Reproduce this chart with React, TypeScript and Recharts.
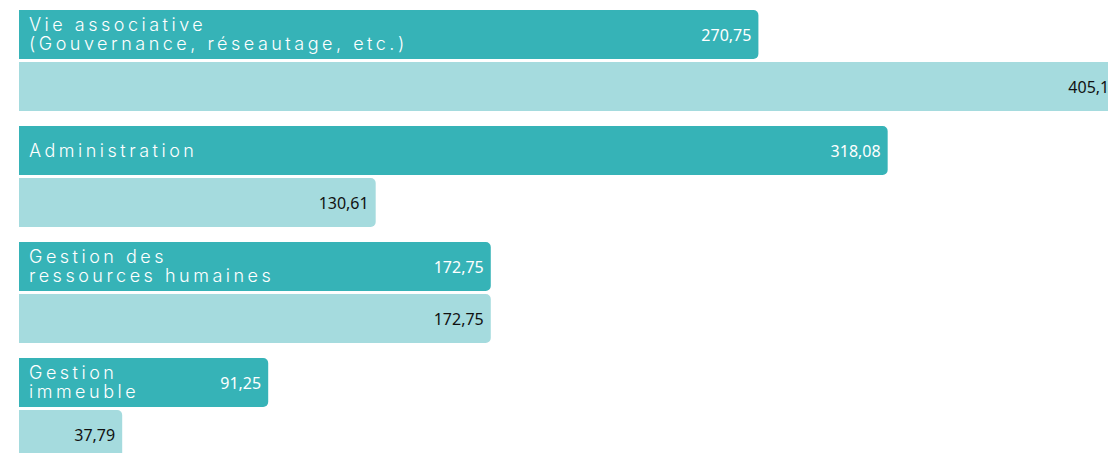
import React from 'react';
import { BarChart, Bar, XAxis, YAxis, LabelList } from 'recharts';

// postes budgétaires (une ligne de texte par "\n")
const categories = [
  'Vie associative\n(Gouvernance, réseautage, etc.)',
  'Administration',
  'Gestion des\nressources humaines',
  'Gestion\nimmeuble',
];
const darkValues = [270.75, 318.08, 172.75, 91.25];
const lightValues = [405.13, 130.61, 172.75, 37.79];

const DARK = '#36b3b7';
const LIGHT = '#a5dbde';

const data = categories.map((name, i) => ({ name, dark: darkValues[i], light: lightValues[i] }));

const fmt = (v: number) => v.toFixed(2).replace('.', ',');

const CategoryLabel = (props: any) => {
  const { x, y, height, index } = props;
  const lines = categories[index].split('\n');
  const cy = y + height / 2;
  const baselines = lines.length === 1 ? [cy + 6] : [cy - 4, cy + 15];
  return (
    <g>
      {lines.map((l, i) => (
        <text
          key={i}
          x={x + 10}
          y={baselines[i]}
          fill="#ffffff"
          fontSize={18}
          fontFamily="Inter, sans-serif"
          fontWeight={300}
          letterSpacing={3.5}
        >
          {l}
        </text>
      ))}
    </g>
  );
};

const valueLabel = (color: string) => (props: any) => {
  const { x, y, width, height, value } = props;
  return (
    <text
      x={x + width - 7}
      y={y + height / 2 + 6}
      textAnchor="end"
      fill={color}
      fontSize={16}
      fontFamily="'Noto Sans', sans-serif"
    >
      {fmt(value)}
    </text>
  );
};

export default function App() {
  return (
    <div style={{ position: 'fixed', top: 0, left: 0, width: 1108, height: 453, overflow: 'hidden', background: '#fff' }}>
      <BarChart
        width={1166}
        height={466}
        data={data}
        layout="vertical"
        margin={{ top: 2, right: 0, left: 19, bottom: 0 }}
        barSize={49}
        barGap={3}
      >
        <XAxis type="number" hide domain={[0, 420]} />
        <YAxis type="category" dataKey="name" hide />
        <Bar dataKey="dark" fill={DARK} radius={[0, 5, 5, 0]} isAnimationActive={false}>
          <LabelList dataKey="name" content={CategoryLabel} />
          <LabelList dataKey="dark" content={valueLabel('#ffffff')} />
        </Bar>
        <Bar dataKey="light" fill={LIGHT} radius={[0, 5, 5, 0]} isAnimationActive={false}>
          <LabelList dataKey="light" content={valueLabel('#111111')} />
        </Bar>
      </BarChart>
    </div>
  );
}
